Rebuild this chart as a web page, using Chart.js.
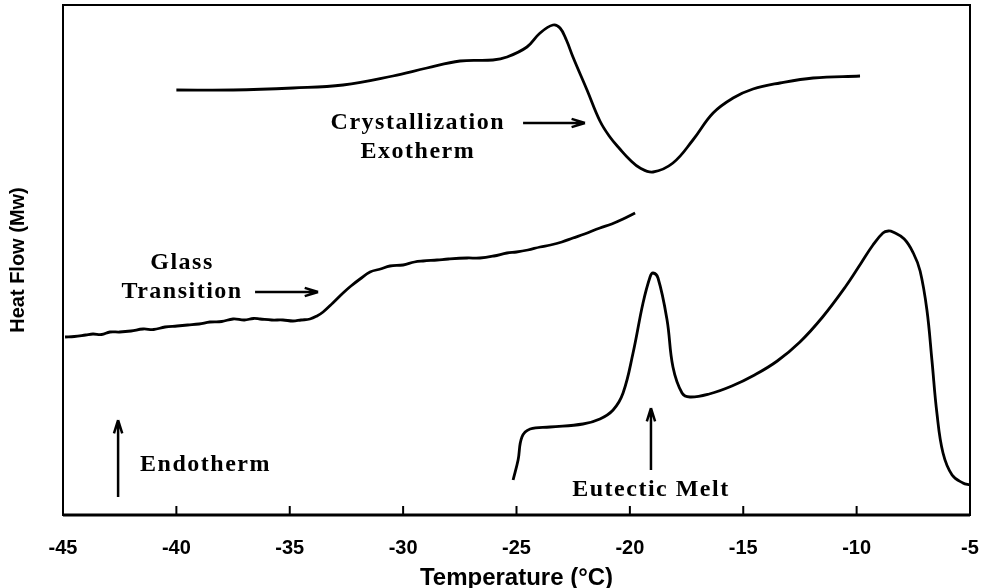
<!DOCTYPE html>
<html>
<head>
<meta charset="utf-8">
<script src="https://cdn.jsdelivr.net/npm/chart.js@4.4.1/dist/chart.umd.min.js"></script>
<style>
  html, body { margin: 0; padding: 0; background: #fff; }
  canvas { display: block; }
</style>
</head>
<body>
<canvas id="dscChart" width="985" height="588"></canvas>
<script>
// === Data (temperature in °C, heat flow in arbitrary units) ===
const crystTemp = [-40.0, -37.5, -34.86, -32.65, -30.45, -28.95, -27.49, -26.04, -25.42, -24.54, -23.96, -23.39, -23.08, -22.8, -22.51, -21.89, -21.32, -20.88, -20.44, -19.99, -19.55, -18.98, -18.10, -17.22, -16.33, -15.45, -14.57, -13.38, -11.92, -9.85];
const crystHeat = [42.5, 42.5, 42.7, 43.0, 43.9, 44.7, 45.4, 45.5, 45.8, 46.8, 48.2, 49.0, 48.7, 47.5, 45.8, 42.5, 39.4, 37.8, 36.6, 35.5, 34.7, 34.3, 35.2, 37.5, 40.2, 41.7, 42.6, 43.2, 43.7, 43.9];

const glassTemp = [-44.91, -44.5, -44.0, -43.68, -43.3, -42.93, -42.5, -42.0, -41.47, -41.0, -40.5, -39.97, -39.5, -39.0, -38.52, -38.0, -37.5, -37.0, -36.6, -36.31, -35.8, -35.3, -34.86, -34.5, -34.11, -33.8, -33.53, -33.1, -32.65, -32.3, -31.9, -31.46, -31.0, -30.58, -30.0, -29.5, -29.12, -28.5, -28.0, -27.18, -26.61, -26.0, -25.42, -25.0, -24.5, -23.96, -23.5, -23.0, -22.51, -22.0, -21.32, -20.8, -20.3, -19.77];
const glassHeat = [17.8, 17.85, 18.0, 18.1, 18.05, 18.3, 18.3, 18.4, 18.6, 18.55, 18.8, 18.9, 19.0, 19.1, 19.3, 19.35, 19.6, 19.5, 19.65, 19.6, 19.5, 19.5, 19.4, 19.5, 19.6, 19.9, 20.3, 21.2, 22.2, 22.9, 23.6, 24.3, 24.6, 24.9, 25.0, 25.3, 25.4, 25.5, 25.6, 25.7, 25.7, 25.9, 26.2, 26.3, 26.5, 26.8, 27.0, 27.3, 27.7, 28.1, 28.7, 29.1, 29.6, 30.2];

const meltTemp = [-25.15, -24.93, -24.76, -24.40, -23.52, -22.07, -21.32, -20.74, -20.30, -19.86, -19.42, -19.11, -18.98, -18.76, -18.36, -18.10, -17.70, -17.35, -16.5, -15.5, -14.5, -13.5, -12.5, -11.5, -10.5, -9.8, -9.28, -8.84, -8.6, -8.4, -7.9, -7.5, -7.2, -6.90, -6.68, -6.46, -6.19, -5.79, -5.31, -5.00];
const meltHeat = [3.5, 5.5, 7.8, 8.6, 8.8, 9.1, 9.6, 10.5, 12.2, 16.2, 21.2, 23.8, 24.2, 23.7, 19.5, 14.8, 12.2, 11.8, 12.1, 12.9, 14.0, 15.4, 17.3, 19.8, 22.8, 25.2, 27.0, 28.2, 28.4, 28.3, 27.6, 26.2, 24.4, 20.5, 15.5, 10.2, 6.2, 4.0, 3.2, 3.0];

const tempTicks = [-45, -40, -35, -30, -25, -20, -15, -10, -5];

// annotation labels, anchored in data units
const notes = [
    { lines: ['Crystallization', 'Exotherm'], x: -29.35, y: [39.2, 36.3], align: 'center' },
    { lines: ['Glass', 'Transition'], x: -39.75, y: [25.2, 22.3], align: 'center' },
    { lines: ['Endotherm'], x: -41.6, y: [5.0], align: 'left' },
    { lines: ['Eutectic Melt'], x: -19.07, y: [2.5], align: 'center' }
];
const arrows = [
    { from: [-24.71, 39.2], to: [-21.98, 39.2] },
    { from: [-36.53, 22.3], to: [-33.75, 22.3] },
    { from: [-42.57, 1.8], to: [-42.57, 9.5] },
    { from: [-19.07, 4.5], to: [-19.07, 10.7] }
];

function toPoints(xs, ys) {
    return xs.map((x, i) => ({ x: x, y: ys[i] }));
}

function curve(xs, ys) {
    return {
        data: toPoints(xs, ys),
        showLine: true,
        borderColor: '#000',
        borderWidth: 2.8,
        pointRadius: 0,
        tension: 0.4,
        fill: false
    };
}

function drawArrow(ctx, x1, y1, x2, y2) {
    const ang = Math.atan2(y2 - y1, x2 - x1);
    const head = 14, spread = 0.3;
    ctx.beginPath();
    ctx.moveTo(x1, y1);
    ctx.lineTo(x2, y2);
    ctx.moveTo(x2, y2);
    ctx.lineTo(x2 - head * Math.cos(ang - spread), y2 - head * Math.sin(ang - spread));
    ctx.moveTo(x2, y2);
    ctx.lineTo(x2 - head * Math.cos(ang + spread), y2 - head * Math.sin(ang + spread));
    ctx.stroke();
}

// frame, inward ticks and the annotations
const framePlugin = {
    id: 'frame',
    afterDraw(chart) {
        const { ctx, chartArea: a, scales: { x, y } } = chart;
        ctx.save();
        ctx.strokeStyle = '#000';
        ctx.lineWidth = 2;
        ctx.strokeRect(a.left, a.top, a.right - a.left, a.bottom - a.top);
        ctx.lineWidth = 3;
        ctx.beginPath();
        ctx.moveTo(a.left, a.bottom);
        ctx.lineTo(a.right, a.bottom);
        ctx.stroke();

        ctx.lineWidth = 2;
        tempTicks.forEach(t => {
            const px = x.getPixelForValue(t);
            ctx.beginPath();
            ctx.moveTo(px, a.bottom);
            ctx.lineTo(px, a.bottom - 9);
            ctx.stroke();
        });

        ctx.fillStyle = '#000';
        ctx.font = "bold 24px 'Liberation Serif', 'Times New Roman', serif";
        ctx.letterSpacing = '1.5px';
        ctx.textBaseline = 'middle';
        notes.forEach(n => {
            ctx.textAlign = n.align;
            n.lines.forEach((txt, i) => {
                ctx.fillText(txt, x.getPixelForValue(n.x), y.getPixelForValue(n.y[i]));
            });
        });

        ctx.lineWidth = 2.5;
        arrows.forEach(ar => {
            drawArrow(ctx,
                x.getPixelForValue(ar.from[0]), y.getPixelForValue(ar.from[1]),
                x.getPixelForValue(ar.to[0]), y.getPixelForValue(ar.to[1]));
        });
        ctx.restore();
    }
};

// === Chart ===
document.addEventListener('DOMContentLoaded', function() {
    Chart.defaults.color = '#000';
    Chart.defaults.font.family = "'Liberation Sans', Arial, sans-serif";

    new Chart(document.getElementById('dscChart'), {
        type: 'scatter',
        data: {
            datasets: [
                curve(crystTemp, crystHeat),
                curve(glassTemp, glassHeat),
                curve(meltTemp, meltHeat)
            ]
        },
        options: {
            responsive: false,
            devicePixelRatio: 1,
            animation: false,
            layout: { padding: { top: 5, right: 15, left: 0, bottom: 0 } },
            plugins: {
                legend: { display: false },
                tooltip: { enabled: false }
            },
            scales: {
                x: {
                    type: 'linear',
                    min: -45,
                    max: -5,
                    afterFit: s => { s.height = 73; s.paddingLeft = 0; s.paddingRight = 0; },
                    afterBuildTicks: s => { s.ticks = tempTicks.map(v => ({ value: v })); },
                    grid: { display: false, drawTicks: false },
                    border: { display: false },
                    ticks: {
                        padding: 21,
                        font: { size: 20, weight: 'bold' },
                        maxRotation: 0
                    },
                    title: {
                        display: true,
                        text: 'Temperature (°C)',
                        font: { size: 24, weight: 'bold', lineHeight: 0.8 },
                        padding: { top: 0, bottom: 0 }
                    }
                },
                y: {
                    type: 'linear',
                    min: 0,
                    max: 51,
                    afterFit: s => { s.width = 63; s.paddingTop = 0; s.paddingBottom = 0; },
                    grid: { display: false, drawTicks: false },
                    border: { display: false },
                    ticks: { display: false },
                    title: {
                        display: true,
                        text: 'Heat Flow (Mw)',
                        font: { size: 20, weight: 'bold', lineHeight: 1.2 },
                        padding: { top: 6, bottom: 0 }
                    }
                }
            }
        },
        plugins: [framePlugin]
    });
});
</script>
</body>
</html>
